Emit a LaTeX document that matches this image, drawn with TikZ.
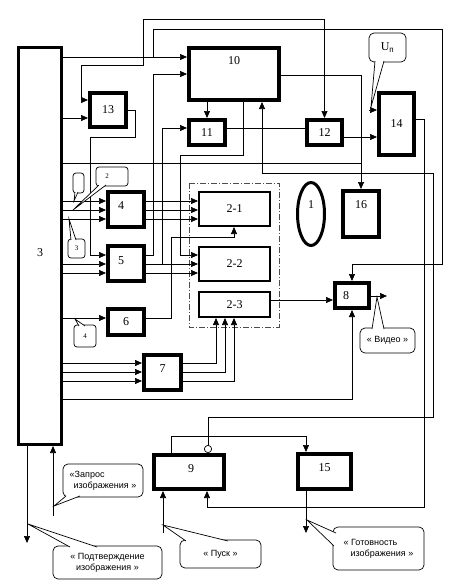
\documentclass[tikz,border=0pt]{standalone}
\usepackage{fontspec}
\setmainfont{Liberation Serif}
\setsansfont{Liberation Sans}
\usetikzlibrary{arrows.meta}
\usetikzlibrary{shapes.geometric}

\begin{document}
\begin{tikzpicture}[x=1pt, y=-1pt,
            block/.style = {draw, line width=4pt, inner sep=0pt, font=\fontsize{12}{14}\selectfont},
            part/.style = {draw, line width=2pt, inner sep=0pt, minimum width=71pt, font=\fontsize{12}{14}\selectfont},
            num/.style = {inner sep=0pt, font=\fontsize{12}{14}\selectfont},
            wire/.style = {line width=0.7pt},
            arr/.style = {wire, -{Triangle[length=7pt,width=6pt]}},
            bubble/.style = {draw, fill=white, line width=0.7pt, rounded corners=5pt, inner sep=1pt, font=\sffamily\fontsize{9}{11}\selectfont},
            small/.style = {bubble, rounded corners=3pt, font=\fontsize{7}{8}\selectfont},
            tail/.style = {line width=0.7pt, fill=white}]
        \useasboundingbox (0,0) rectangle (454,587);

        % blocks
        \node[block, line width=3pt, minimum width=43pt, minimum height=397pt, label={[num, yshift=-7pt]center:3}] (n3) at (40,246) {};
        \node[block, minimum width=90pt, minimum height=52pt, label={[num, anchor=north, yshift=-10pt]north:10}] (n10) at (234,74) {};
        \node[block, minimum width=36pt, minimum height=34pt] (n13) at (108,110) {13};
        \node[block, minimum width=36pt, minimum height=25pt] (n11) at (207,132.5) {11};
        \node[block, minimum width=35pt, minimum height=25pt] (n12) at (324.5,132.5) {12};
        \node[block, minimum width=35pt, minimum height=62pt] (n14) at (396.5,124) {14};
        \node[block, minimum width=36pt, minimum height=46pt, label={[num, anchor=north, yshift=-11pt]north:16}] (n16) at (361,214) {};
        \node[draw, ellipse, line width=3pt, inner sep=0pt, minimum width=27pt, minimum height=63pt, label={[num, yshift=9pt]center:1}] (n1) at (311,214) {};
        \node[block, minimum width=36pt, minimum height=35pt, label={[num, xshift=-5pt, yshift=4pt]center:4}] (n4) at (126,209.5) {};
        \node[block, minimum width=36pt, minimum height=35pt, label={[num, xshift=-5pt, yshift=3pt]center:5}] (n5) at (126,263.5) {};
        \node[block, minimum width=36pt, minimum height=26pt] (n6) at (126,322) {6};
        \node[block, minimum width=37pt, minimum height=35pt, label={[num, yshift=4pt]center:7}] (n7) at (162.5,372.5) {};
        \node[block, minimum width=34pt, minimum height=25pt, label={[num, xshift=-6pt]center:8}] (n8) at (352,295.5) {};
        \node[block, minimum width=70pt, minimum height=34pt, label={[num, xshift=2pt, yshift=3pt]center:9}] (n9) at (189,472) {};
        \node[block, minimum width=53pt, minimum height=35pt, label={[num, yshift=4pt]center:15}] (n15) at (324.5,471.5) {};
        \node[part, minimum height=34pt] (n21) at (234.5,209) {2-1};
        \node[part, minimum height=34pt] (n22) at (234.5,264) {2-2};
        \node[part, minimum height=25pt] (n23) at (234.5,304.5) {2-3};
        \draw[line width=0.7pt, black!70, dash pattern=on 6pt off 2pt on 1pt off 2pt] (189,183) rectangle (279,327);

        % junctions
        \coordinate (j1) at (143,57);
        \coordinate (j2) at (153,57);
        \coordinate (j3) at (162,264);
        \coordinate (j4) at (361,163);

        % connections
        \draw[arr] (n3.east |- 0,57) -- (n10.west |- 0,57);
        \draw[arr] (j2) -- (153,29) -- (442,29) -- (442,264) -- (352,264) -- (n8.north);
        \draw[arr] (j1) -- (143,19) -- (n12.north |- 0,19) -- (n12.north);
        \draw[arr] (j1) -- (143,65) -- (81,65) -- (81,100) -- (n13.west |- 0,100);
        \draw[arr] (n3.east |- 0,118) -- (n13.west |- 0,118);
        \draw[arr] (n13.east |- 0,110) -- (135,110) -- (135,137) -- (90,137) -- (90,255) -- (n5.west |- 0,255);
        \draw[arr] (n5.east |- 0,255) -- (153,255) -- (153,74) -- (n10.west |- 0,74);
        \draw[arr] (n10.south -| 207,0) -- (n11.north -| 207,0);
        \draw[wire] (n11.east |- 0,128) -- (n12.west |- 0,128);
        \draw[arr] (n12.east |- 0,137) -- (n14.west |- 0,137);
        \draw[arr] (n5.east |- 0,264) -- (n22.west |- 0,264);
        \draw[arr] (n5.east |- 0,273) -- (n22.west |- 0,273);
        \draw[arr] (j3) -- (162,128) -- (n11.west |- 0,128);
        \draw[arr] (n10.south -| 243,0) -- (243,155) -- (180,155) -- (180,255) -- (n22.west |- 0,255);
        \draw[arr] (n10.east |- 0,75) -- (361,75) -- (n16.north);
        \draw[wire] (n3.east |- 0,163) -- (j4);
        \foreach \y in {201,210,219} {
            \draw[arr] (n3.east |- 0,\y) -- (n4.west |- 0,\y);
            \draw[arr] (n4.east |- 0,\y) -- (n21.west |- 0,\y);
        }
        \foreach \y in {264,273}
            \draw[arr] (n3.east |- 0,\y) -- (n5.west |- 0,\y);
        \draw[arr] (n3.east |- 0,318) -- (n6.west |- 0,318);
        \draw[arr] (n6.east |- 0,318) -- (171,318) -- (171,237) -- (234,237) -- (n21.south -| 234,0);
        \foreach \y/\x in {363/216, 372/225, 381/234} {
            \draw[arr] (n3.east |- 0,\y) -- (n7.west |- 0,\y);
            \draw[arr] (n7.east |- 0,\y) -- (\x,\y) -- (n23.south -| \x,0);
        }
        \draw[arr] (n3.east |- 0,399) -- (352,399) -- (n8.south);
        \draw[arr] (n23.east |- 0,300) -- (n8.west |- 0,300);
        \coordinate (video) at (387,296);
        \draw[arr] (n8.east |- video) -- (video);
        \draw[arr] (n14.east |- 0,119) -- (424,119) -- (424,507) -- (207,507) -- (n9.south -| 207,0);
        \draw[wire, {Circle[open,length=8pt]}-{Triangle[length=7pt,width=6pt]}] (n9.north -| 208,0) -- (208,417) -- (433,417) -- (433,173) -- (262,173) -- (n10.south -| 262,0);
        \draw[arr] (n9.north -| 171,0) -- (171,436) -- (306,436) -- (n15.north -| 306,0);
        \coordinate (ready) at (306,533);
        \draw[arr] (n15.south -| ready) -- (ready);
        \coordinate (confirm) at (27,543);
        \draw[arr] (n3.south -| confirm) -- (confirm);
        \coordinate (request) at (53,516);
        \draw[arr] (request) -- (n3.south -| request);
        \coordinate (start) at (163,533);
        \draw[arr] (start) -- (n9.south -| start);
        \coordinate (supply) at (369,110);
        \draw[arr] (supply) -- (n14.west |- supply);

        % callouts
        \node[bubble, minimum width=37pt, minimum height=29pt] (cU) at (387.5,47.5) {\rmfamily\fontsize{12}{14}\selectfont U\textsubscript{\sffamily п}};
        \filldraw[tail] (375,61) -- (371,107) -- (384,61);
        \node[small, minimum width=11pt, minimum height=20pt] (cb) at (78.5,183) {};
        \filldraw[tail] (75,192) -- (74,201) -- (78,192);
        \node[small, minimum width=32pt, minimum height=19pt] (c2) at (112,176.5) {\hspace*{-10pt}2};
        \filldraw[tail] (99,185) -- (73,210) -- (106,185);
        \node[small, minimum width=17pt, minimum height=19pt] (c3) at (76.5,248.5) {3};
        \filldraw[tail] (71,240) -- (69,219) -- (76,240);
        \node[small, minimum width=22pt, minimum height=22pt] (c4) at (85,336) {4};
        \filldraw[tail] (79,326) -- (75,319) -- (85,326);
        \node[bubble, minimum width=55pt, minimum height=25pt] (cV) at (387.5,340.5) {« Видео »};
        \filldraw[tail] (372,329) -- (377,297) -- (384,329);
        \node[bubble, minimum width=80pt, minimum height=33pt, align=left] (cZ) at (103,480.5) {«Запрос\\\hspace{4pt}изображения »};
        \filldraw[tail] (66,496) -- (54,506) -- (80,496);
        \node[bubble, minimum width=109pt, minimum height=33pt, align=center] (cP) at (107.5,562.5) {« Подтверждение\\изображения »};
        \filldraw[tail] (70,547) -- (28,524) -- (97,547);
        \node[bubble, minimum width=81pt, minimum height=28pt] (cS) at (220.5,554) {« Пуск »};
        \filldraw[tail] (186,541) -- (163,525) -- (228,541);
        \node[bubble, minimum width=91pt, minimum height=43pt, align=left] (cG) at (378.5,548.5) {« Готовность\\\hspace{7pt}изображения »};
        \filldraw[tail] (336,533) -- (307,520) -- (334,546);
        \end{tikzpicture}
\end{document}
